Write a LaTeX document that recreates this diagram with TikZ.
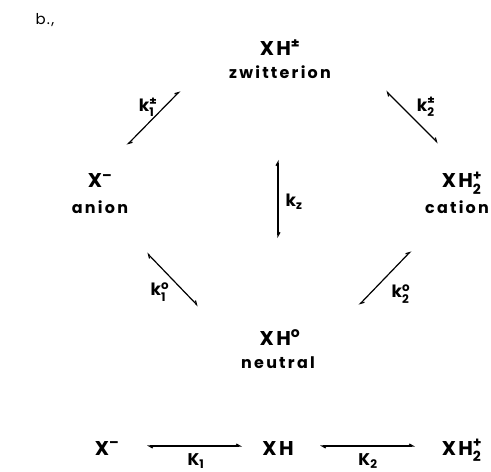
\documentclass[tikz,border=0pt]{standalone}
\usepackage{amsmath}
\usepackage{fontspec}
\setmainfont{Poppins}[LetterSpace=8]
\usetikzlibrary{arrows.meta}
\newcommand{\kk}[2]{k$_{\text{#1}}^{\text{#2}}$}
\begin{document}
\begin{tikzpicture}[x=1bp,y=-1bp,
  species/.style={inner sep=0pt, font=\fontsize{20}{22}\selectfont\bfseries\addfontfeature{LetterSpace=12}, anchor=base},
  spname/.style={inner sep=0pt, font=\fontsize{16}{18}\selectfont\bfseries\addfontfeature{LetterSpace=14}, anchor=base},
  figlab/.style={inner sep=0pt, font=\fontsize{15}{18}\selectfont, anchor=base},
  rate/.style={inner sep=0pt, font=\fontsize{17}{18}\selectfont\bfseries},
  eq/.style={line width=1.2pt, {Straight Barb[harpoon,length=3.5pt,width=4pt]}-{Straight Barb[harpoon,length=3.5pt,width=4pt]}}
]
\useasboundingbox (0,0) rectangle (491,472);
\node[figlab] (lab) at (45,25) {b.,};
\node[species] (zw) at (280,56) {XH\textsuperscript{±}};
\node[spname] (zwn) at (280,79) {zwitterion};
\node[species] (an) at (100,188) {X\textsuperscript{–}};
\node[spname] (ann) at (100,214) {anion};
\node[species] (ca) at (462,188) {XH$_{\text{2}}^{\text{+}}$};
\node[spname] (can) at (457,214) {cation};
\node[species] (ne) at (280,345) {XH\textsuperscript{o}};
\node[spname] (nen) at (278,368) {neutral};
\node[species] (bx) at (107,455) {X\textsuperscript{–}};
\node[species] (bxh) at (278,455) {XH};
\node[species] (bca) at (462,455) {XH$_{\text{2}}^{\text{+}}$};
% arrow end coordinates
\coordinate (a1s) at (127,145); \coordinate (a1e) at (180,91);
\coordinate (a2s) at (386,91); \coordinate (a2e) at (438,143);
\coordinate (a3s) at (278,238); \coordinate (a3e) at (278,160);
\coordinate (a4s) at (147,253); \coordinate (a4e) at (198,306);
\coordinate (a5s) at (411,251); \coordinate (a5e) at (359,305);
\coordinate (a6s) at (147,446); \coordinate (a6e) at (242,446);
\coordinate (a7s) at (320,446); \coordinate (a7e) at (415,446);
\draw[eq] (a1s) -- (a1e);
\draw[eq] (a2s) -- (a2e);
\draw[eq] (a3s) -- (a3e);
\draw[eq] (a4s) -- (a4e);
\draw[eq] (a5s) -- (a5e);
\draw[eq] (a6s) -- (a6e);
\draw[eq] (a7s) -- (a7e);
\node[rate] (k1p) at (148,107) {\kk{1}{±}};
\node[rate] (k2p) at (426,107) {\kk{2}{±}};
\node[rate] (kz) at (294,202) {k$_{\text{z}}$};
\node[rate] (k1o) at (160,292) {\kk{1}{o}};
\node[rate] (k2o) at (401,294) {\kk{2}{o}};
\node[rate] (K1) at (196,461) {K$_{\text{1}}$};
\node[rate] (K2) at (368,461) {K$_{\text{2}}$};
\end{tikzpicture}
\end{document}
